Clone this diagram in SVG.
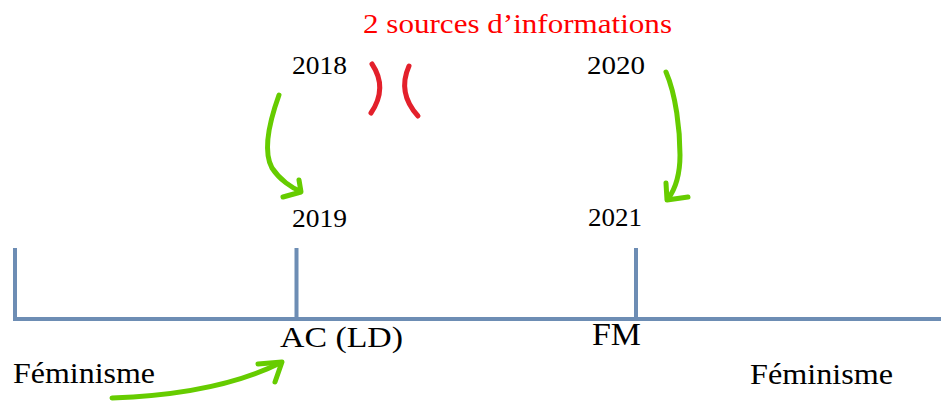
<svg xmlns="http://www.w3.org/2000/svg" width="941" height="401" viewBox="0 0 941 401">
<style>
text{font-family:'Liberation Serif','DejaVu Serif',serif;fill:#000}
.yr{font-size:25px}
.tl{stroke:#6D8DB4;stroke-width:4;fill:none;stroke-linecap:butt}
.g{stroke:#66CC00;stroke-width:5;fill:none;stroke-linecap:round;stroke-linejoin:round}
.r{stroke:#E3202B;stroke-width:5;fill:none;stroke-linecap:round}
</style>
<rect width="941" height="401" fill="#fff"/>
<g id="timeline">
<path class="tl" d="M15 248 V319 M13 319 H941 M296.5 248 V319 M636 248 V319"/>
</g>
<g id="title"><text x="363" y="33" font-size="28" style="fill:#FF0000" textLength="309" lengthAdjust="spacingAndGlyphs">2 sources d’informations</text></g>
<g id="y2018"><text class="yr" x="292" y="74" textLength="55" lengthAdjust="spacingAndGlyphs">2018</text></g>
<g id="y2019"><text class="yr" x="292" y="227" textLength="55" lengthAdjust="spacingAndGlyphs">2019</text></g>
<g id="y2020"><text class="yr" x="587" y="74" textLength="58" lengthAdjust="spacingAndGlyphs">2020</text></g>
<g id="y2021"><text class="yr" x="588" y="226" textLength="54" lengthAdjust="spacingAndGlyphs">2021</text></g>
<g id="ac"><text x="280" y="347" font-size="29" textLength="123" lengthAdjust="spacingAndGlyphs">AC (LD)</text></g>
<g id="fm"><text x="592" y="345" font-size="31" textLength="49" lengthAdjust="spacingAndGlyphs">FM</text></g>
<g id="fem1"><text x="13" y="383" font-size="30" textLength="142" lengthAdjust="spacingAndGlyphs">Féminisme</text></g>
<g id="fem2"><text x="750" y="384" font-size="30" textLength="143" lengthAdjust="spacingAndGlyphs">Féminisme</text></g>
<g id="brackets">
<path class="r" d="M372 64 Q388 88 371 113"/>
<path class="r" d="M409 66 Q397 93 418 116"/>
</g>
<g id="connectors">
<path class="g" d="M279 95 C270 120 262 150 272 168 C280 180 292 188 300 191"/>
<path class="g" d="M299 180 L301 192 L283 197"/>
<path class="g" d="M666 72 C676 95 680 130 680 155 C680 175 676 188 668 199"/>
<path class="g" d="M666 183 L667 200 L688 197"/>
<path class="g" d="M112 398 C170 396 230 388 280 363"/>
<path class="g" d="M258 364 L282 362 L275 382"/>
</g>
</svg>
